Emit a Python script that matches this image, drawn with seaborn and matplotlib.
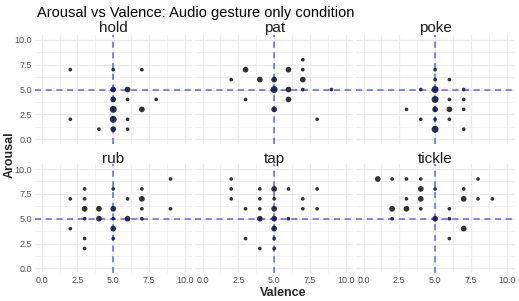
import pandas as pd
import matplotlib.pyplot as plt
import seaborn as sns

# gesture facets (valence, arousal, number of ratings at that spot)
gestures = ['hold', 'pat', 'poke', 'rub', 'tap', 'tickle']

hold_v = [2, 5, 7, 5, 6, 5, 6, 8, 5, 7, 2, 5, 6, 4, 5, 6]
hold_a = [7, 7, 7, 5, 5, 4, 4, 4, 3, 3, 2, 2, 2, 1, 1, 1]
hold_n = [1, 1, 1, 2, 2, 2, 1, 1, 3, 2, 1, 3, 1, 1, 2, 1]

pat_v = [7, 3, 6, 7, 2, 4, 5, 7, 5, 6, 7, 9, 3, 6, 5, 8]
pat_a = [8, 7, 7, 7, 6, 6, 6, 6, 5, 5, 5, 5, 4, 4, 3, 2]
pat_n = [1, 2, 2, 1, 1, 2, 2, 2, 3, 2, 1, 1, 1, 2, 2, 1]

poke_v = [5, 5, 6, 4, 5, 7, 5, 6, 7, 3, 5, 6, 7, 4, 5, 6, 5, 7]
poke_a = [7, 6, 6, 5, 5, 5, 4, 4, 4, 3, 3, 3, 3, 2, 2, 2, 1, 1]
poke_n = [1, 1, 1, 1, 3, 1, 3, 1, 1, 1, 2, 2, 1, 1, 1, 1, 3, 1]

rub_v = [9, 3, 5, 7, 2, 3, 6, 7, 3, 4, 5, 7, 9, 3, 4, 5, 6, 7, 2, 5, 3, 5, 3]
rub_a = [9, 8, 8, 8, 7, 7, 7, 7, 6, 6, 6, 6, 6, 5, 5, 5, 5, 5, 4, 4, 3, 3, 2]
rub_n = [1, 1, 1, 1, 1, 1, 1, 2, 2, 2, 2, 1, 1, 1, 2, 1, 2, 1, 1, 2, 1, 1, 1]

tap_v = [2, 2, 4, 5, 6, 8, 2, 4, 5, 7, 3, 4, 5, 7, 8, 4, 5, 6, 5, 3, 5, 4, 5]
tap_a = [9, 8, 8, 8, 8, 8, 7, 7, 7, 7, 6, 6, 6, 6, 6, 5, 5, 5, 4, 3, 3, 2, 2]
tap_n = [1, 1, 1, 2, 1, 1, 1, 1, 1, 1, 1, 1, 2, 1, 1, 2, 2, 1, 2, 1, 1, 1, 1]

tickle_v = [1, 2, 3, 4, 8, 4, 5, 7, 3, 4, 7, 8, 9, 2, 3, 4, 6, 2, 5, 6, 7, 6]
tickle_a = [9, 9, 9, 9, 9, 8, 8, 8, 7, 7, 7, 7, 7, 6, 6, 6, 6, 5, 5, 5, 4, 3]
tickle_n = [2, 1, 1, 1, 1, 2, 1, 1, 1, 2, 2, 1, 1, 2, 2, 1, 1, 1, 2, 1, 2, 1]

frames = []
for g, v, a, n in zip(gestures,
                      [hold_v, pat_v, poke_v, rub_v, tap_v, tickle_v],
                      [hold_a, pat_a, poke_a, rub_a, tap_a, tickle_a],
                      [hold_n, pat_n, poke_n, rub_n, tap_n, tickle_n]):
    frames.append(pd.DataFrame({'gesture': g, 'Valence': v, 'Arousal': a, 'n': n}))
data = pd.concat(frames, ignore_index=True)

ticks = [0, 2.5, 5, 7.5, 10]
tick_labels = ['0.0', '2.5', '5.0', '7.5', '10.0']

sns.set_theme(style='white')
plt.rcParams['font.family'] = ['Liberation Sans', 'DejaVu Sans']

fig, axes = plt.subplots(2, 3, figsize=(5.19, 3.01), dpi=100, sharex=True, sharey=True)
fig.subplots_adjust(left=0.0665, right=0.990, top=0.884, bottom=0.092,
                    wspace=0.022, hspace=0.183)

for ax, g in zip(axes.flat, gestures):
    sub = data[data['gesture'] == g]
    ax.set_xlim(-0.5, 10.5)
    ax.set_ylim(-0.5, 10.5)
    # ggplot-style grid: major and minor lines
    for t in [0, 1.25, 2.5, 3.75, 5, 6.25, 7.5, 8.75, 10]:
        lw = 0.9 if t in ticks else 0.5
        ax.axvline(t, color='#ebebeb', lw=lw, zorder=0)
        ax.axhline(t, color='#ebebeb', lw=lw, zorder=0)
    sns.scatterplot(data=sub, x='Valence', y='Arousal', size='n',
                    sizes={1: 7, 2: 17, 3: 25}, color='black', alpha=0.8,
                    edgecolor='none', legend=False, ax=ax, zorder=2)
    ax.axvline(5, color='blue', alpha=0.6, lw=1.1, ls=(0, (4, 3)), zorder=3)
    ax.axhline(5, color='blue', alpha=0.6, lw=1.1, ls=(0, (4, 3)), zorder=3)
    ax.set_title(g, fontsize=11, pad=1, color='#1a1a1a')
    ax.set_xticks(ticks)
    ax.set_xticklabels(tick_labels)
    ax.set_yticks(ticks)
    ax.set_yticklabels(tick_labels)
    ax.tick_params(length=0, labelsize=6.5, colors='#4d4d4d', pad=2)
    for s in ax.spines.values():
        s.set_visible(False)
    ax.set_xlabel('')
    ax.set_ylabel('')

fig.text(0.071, 0.958, 'Arousal vs Valence: Audio gesture only condition',
         fontsize=10.5, ha='left', va='center', color='black')
fig.text(0.545, 0.028, 'Valence', fontsize=9, fontweight='bold', ha='center', va='center')
fig.text(0.019, 0.485, 'Arousal', fontsize=9, fontweight='bold', ha='center',
         va='center', rotation=90)

plt.savefig('out.png', dpi=100)
